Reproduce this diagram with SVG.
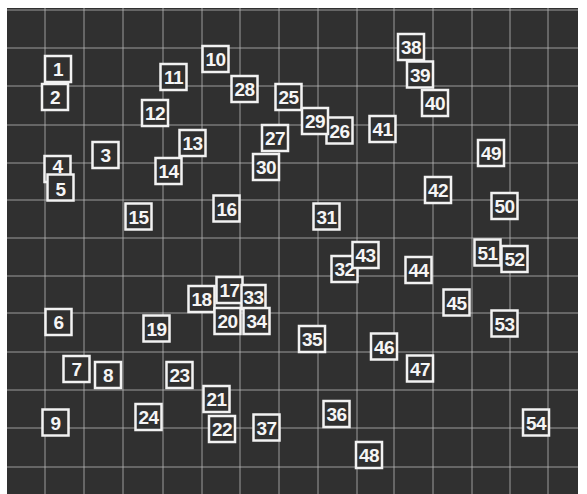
<svg xmlns="http://www.w3.org/2000/svg" width="587" height="494" viewBox="0 0 587 494">
<style>
.bg{fill:#303030}
.grid line{stroke:#b8b8b8;stroke-width:1;stroke-opacity:0.8}
.n rect{fill:#303030;stroke:#f2f2f2;stroke-width:2.5}
.n text{fill:#f5f5f5;font-family:"Liberation Sans",Arial,sans-serif;font-weight:bold;font-size:19px;letter-spacing:-0.5px;text-anchor:middle}
</style>
<rect width="587" height="494" fill="#ffffff"/>
<rect class="bg" x="7" y="8" width="571" height="486"/>
<g class="grid" id="grid">
<line x1="7" y1="10" x2="578" y2="10"/>
<line x1="7" y1="48" x2="578" y2="48"/>
<line x1="7" y1="86" x2="578" y2="86"/>
<line x1="7" y1="125" x2="578" y2="125"/>
<line x1="7" y1="163" x2="578" y2="163"/>
<line x1="7" y1="200" x2="578" y2="200"/>
<line x1="7" y1="238" x2="578" y2="238"/>
<line x1="7" y1="276" x2="578" y2="276"/>
<line x1="7" y1="313" x2="578" y2="313"/>
<line x1="7" y1="352" x2="578" y2="352"/>
<line x1="7" y1="390" x2="578" y2="390"/>
<line x1="7" y1="428" x2="578" y2="428"/>
<line x1="7" y1="467" x2="578" y2="467"/>
<line x1="45" y1="8" x2="45" y2="494"/>
<line x1="84" y1="8" x2="84" y2="494"/>
<line x1="123" y1="8" x2="123" y2="494"/>
<line x1="163" y1="8" x2="163" y2="494"/>
<line x1="202" y1="8" x2="202" y2="494"/>
<line x1="240" y1="8" x2="240" y2="494"/>
<line x1="279" y1="8" x2="279" y2="494"/>
<line x1="318" y1="8" x2="318" y2="494"/>
<line x1="357" y1="8" x2="357" y2="494"/>
<line x1="394" y1="8" x2="394" y2="494"/>
<line x1="433" y1="8" x2="433" y2="494"/>
<line x1="472" y1="8" x2="472" y2="494"/>
<line x1="510" y1="8" x2="510" y2="494"/>
<line x1="548" y1="8" x2="548" y2="494"/>
</g>
<g id="connectors"></g>
<g id="nodes">
<g id="n1" class="n" transform="translate(58,69)"><rect x="-13" y="-13" width="26" height="26"/><text y="7">1</text></g>
<g id="n2" class="n" transform="translate(55,97)"><rect x="-13" y="-13" width="26" height="26"/><text y="7">2</text></g>
<g id="n3" class="n" transform="translate(105.5,155)"><rect x="-13" y="-13" width="26" height="26"/><text y="7">3</text></g>
<g id="n4" class="n" transform="translate(57.5,169)"><rect x="-13" y="-13" width="26" height="26"/><text y="4">4</text></g>
<g id="n5" class="n" transform="translate(60.5,187.5)"><rect x="-13" y="-13" width="26" height="26"/><text y="8">5</text></g>
<g id="n6" class="n" transform="translate(58.5,322)"><rect x="-13" y="-13" width="26" height="26"/><text y="7">6</text></g>
<g id="n7" class="n" transform="translate(76.5,369)"><rect x="-13" y="-13" width="26" height="26"/><text y="7">7</text></g>
<g id="n8" class="n" transform="translate(108,375)"><rect x="-13" y="-13" width="26" height="26"/><text y="7">8</text></g>
<g id="n9" class="n" transform="translate(55.5,422.5)"><rect x="-13" y="-13" width="26" height="26"/><text y="7">9</text></g>
<g id="n10" class="n" transform="translate(215.5,59)"><rect x="-13" y="-13" width="26" height="26"/><text y="7">10</text></g>
<g id="n11" class="n" transform="translate(173.5,77)"><rect x="-13" y="-13" width="26" height="26"/><text y="7">11</text></g>
<g id="n12" class="n" transform="translate(155,113)"><rect x="-13" y="-13" width="26" height="26"/><text y="7">12</text></g>
<g id="n13" class="n" transform="translate(192.5,143)"><rect x="-13" y="-13" width="26" height="26"/><text y="7">13</text></g>
<g id="n14" class="n" transform="translate(168.5,171)"><rect x="-13" y="-13" width="26" height="26"/><text y="7">14</text></g>
<g id="n15" class="n" transform="translate(138.5,216.5)"><rect x="-13" y="-13" width="26" height="26"/><text y="7">15</text></g>
<g id="n16" class="n" transform="translate(226.5,208.5)"><rect x="-13" y="-13" width="26" height="26"/><text y="7">16</text></g>
<g id="n17" class="n" transform="translate(229.5,290)"><rect x="-13" y="-13" width="26" height="26"/><text y="7">17</text></g>
<g id="n18" class="n" transform="translate(201.5,299)"><rect x="-13" y="-13" width="26" height="26"/><text y="7">18</text></g>
<g id="n19" class="n" transform="translate(156.5,328.5)"><rect x="-13" y="-13" width="26" height="26"/><text y="7">19</text></g>
<g id="n20" class="n" transform="translate(227.5,321)"><rect x="-13" y="-13" width="26" height="26"/><text y="7">20</text></g>
<g id="n21" class="n" transform="translate(216.5,399)"><rect x="-13" y="-13" width="26" height="26"/><text y="7">21</text></g>
<g id="n22" class="n" transform="translate(222,429)"><rect x="-13" y="-13" width="26" height="26"/><text y="7">22</text></g>
<g id="n23" class="n" transform="translate(179.5,375)"><rect x="-13" y="-13" width="26" height="26"/><text y="7">23</text></g>
<g id="n24" class="n" transform="translate(148.5,417)"><rect x="-13" y="-13" width="26" height="26"/><text y="7">24</text></g>
<g id="n25" class="n" transform="translate(288.5,97)"><rect x="-13" y="-13" width="26" height="26"/><text y="7">25</text></g>
<g id="n26" class="n" transform="translate(339.5,130.5)"><rect x="-13" y="-13" width="26" height="26"/><text y="7">26</text></g>
<g id="n27" class="n" transform="translate(275,138)"><rect x="-13" y="-13" width="26" height="26"/><text y="7">27</text></g>
<g id="n28" class="n" transform="translate(244.5,89)"><rect x="-13" y="-13" width="26" height="26"/><text y="7">28</text></g>
<g id="n29" class="n" transform="translate(315,121)"><rect x="-13" y="-13" width="26" height="26"/><text y="7">29</text></g>
<g id="n30" class="n" transform="translate(266,167)"><rect x="-13" y="-13" width="26" height="26"/><text y="7">30</text></g>
<g id="n31" class="n" transform="translate(326.5,216.5)"><rect x="-13" y="-13" width="26" height="26"/><text y="7">31</text></g>
<g id="n32" class="n" transform="translate(344.5,269)"><rect x="-13" y="-13" width="26" height="26"/><text y="7">32</text></g>
<g id="n33" class="n" transform="translate(253.5,297)"><rect x="-12" y="-12" width="24" height="24"/><text y="7">33</text></g>
<g id="n34" class="n" transform="translate(256.5,321)"><rect x="-13" y="-13" width="26" height="26"/><text y="7">34</text></g>
<g id="n35" class="n" transform="translate(312,339)"><rect x="-13" y="-13" width="26" height="26"/><text y="7">35</text></g>
<g id="n36" class="n" transform="translate(336.5,414)"><rect x="-13" y="-13" width="26" height="26"/><text y="7">36</text></g>
<g id="n37" class="n" transform="translate(266.5,427.5)"><rect x="-13" y="-13" width="26" height="26"/><text y="7">37</text></g>
<g id="n38" class="n" transform="translate(411,47)"><rect x="-13" y="-13" width="26" height="26"/><text y="7">38</text></g>
<g id="n39" class="n" transform="translate(420,74.5)"><rect x="-13" y="-13" width="26" height="26"/><text y="7">39</text></g>
<g id="n40" class="n" transform="translate(435,103)"><rect x="-13" y="-13" width="26" height="26"/><text y="7">40</text></g>
<g id="n41" class="n" transform="translate(382.5,129)"><rect x="-13" y="-13" width="26" height="26"/><text y="7">41</text></g>
<g id="n42" class="n" transform="translate(438,190)"><rect x="-13" y="-13" width="26" height="26"/><text y="7">42</text></g>
<g id="n43" class="n" transform="translate(365.5,255)"><rect x="-13" y="-13" width="26" height="26"/><text y="7">43</text></g>
<g id="n44" class="n" transform="translate(418.5,270)"><rect x="-13" y="-13" width="26" height="26"/><text y="7">44</text></g>
<g id="n45" class="n" transform="translate(456.5,302.5)"><rect x="-13" y="-13" width="26" height="26"/><text y="7">45</text></g>
<g id="n46" class="n" transform="translate(384,346.5)"><rect x="-13" y="-13" width="26" height="26"/><text y="7">46</text></g>
<g id="n47" class="n" transform="translate(420,368.5)"><rect x="-13" y="-13" width="26" height="26"/><text y="7">47</text></g>
<g id="n48" class="n" transform="translate(369,455)"><rect x="-13" y="-13" width="26" height="26"/><text y="7">48</text></g>
<g id="n49" class="n" transform="translate(491,153)"><rect x="-13" y="-13" width="26" height="26"/><text y="7">49</text></g>
<g id="n50" class="n" transform="translate(504.5,206)"><rect x="-13" y="-13" width="26" height="26"/><text y="7">50</text></g>
<g id="n51" class="n" transform="translate(487.5,252.5)"><rect x="-13" y="-13" width="26" height="26"/><text y="7">51</text></g>
<g id="n52" class="n" transform="translate(514.5,259)"><rect x="-13" y="-13" width="26" height="26"/><text y="7">52</text></g>
<g id="n53" class="n" transform="translate(504.5,323.5)"><rect x="-13" y="-13" width="26" height="26"/><text y="7">53</text></g>
<g id="n54" class="n" transform="translate(536,422.5)"><rect x="-13" y="-13" width="26" height="26"/><text y="7">54</text></g>
</g>
</svg>
